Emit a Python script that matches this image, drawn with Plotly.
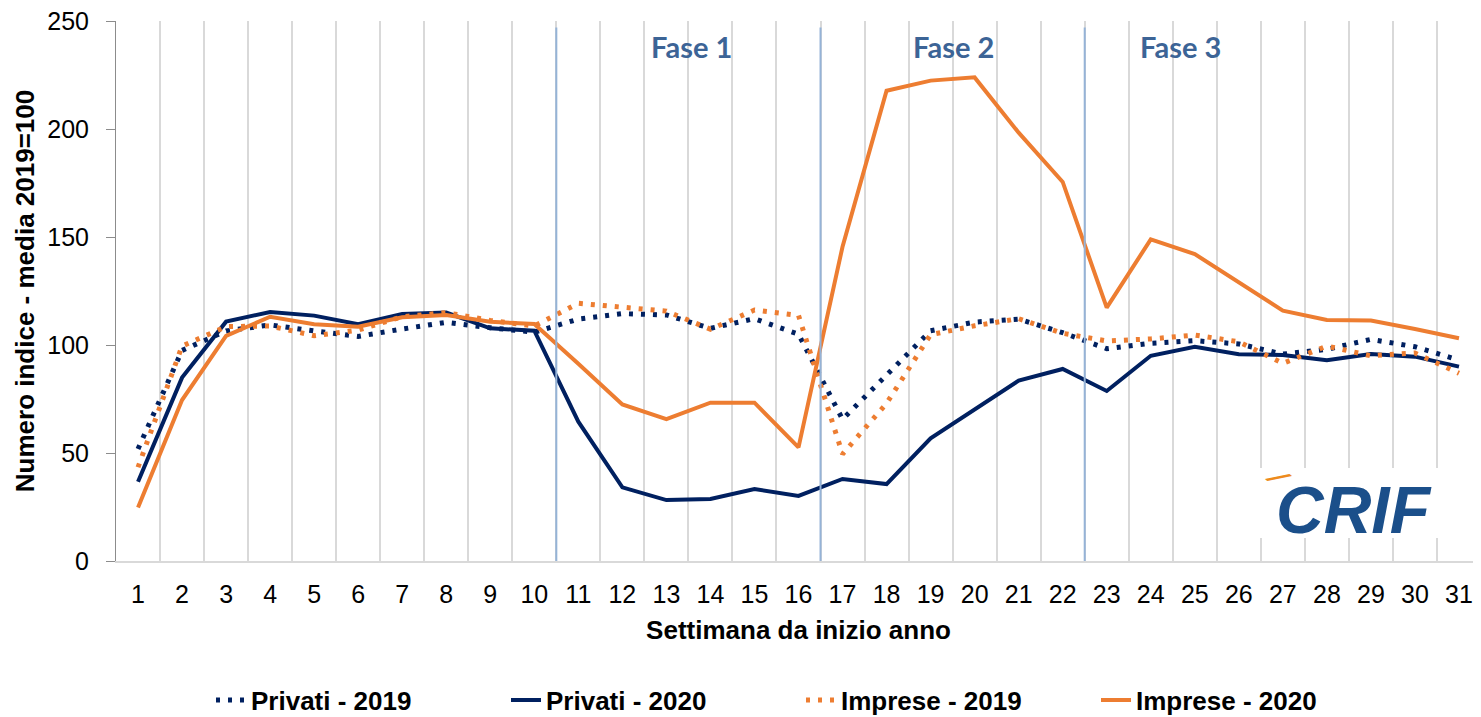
import plotly.graph_objects as go

weeks = list(range(1, 32))
privati_2019 = [51.9, 97.5, 106.5, 109.3, 106.5, 104.0, 107.4, 110.5, 108.0, 105.9,
                112.0, 114.5, 113.9, 107.7, 112.2, 105.0, 65.6, 86.3, 106.6, 110.6,
                112.0, 105.7, 98.3, 100.8, 102.0, 100.5, 95.8, 98.0, 102.6, 99.2, 93.0]
privati_2020 = [36.7, 84.9, 110.8, 115.3, 113.6, 109.6, 114.4, 115.0, 107.7, 106.6,
                64.5, 34.1, 28.2, 28.7, 33.3, 30.1, 38.0, 35.6, 56.8, 69.9,
                83.5, 88.9, 78.7, 95.0, 99.2, 95.7, 95.4, 92.9, 95.8, 94.6, 90.0]
imprese_2019 = [43.4, 99.5, 108.5, 108.8, 104.3, 106.9, 113.1, 115.0, 111.4, 108.8,
                119.3, 117.4, 115.7, 107.3, 116.2, 113.7, 49.5, 73.0, 104.8, 108.9,
                112.2, 105.4, 101.9, 102.8, 104.6, 101.5, 91.5, 99.5, 95.0, 96.3, 86.9]
imprese_2020 = [24.8, 74.5, 104.2, 113.1, 109.6, 108.5, 112.8, 113.9, 110.8, 109.7,
                91.3, 72.5, 65.7, 73.3, 73.3, 52.6, 145.5, 217.7, 222.4, 223.9,
                198.3, 175.5, 117.3, 148.9, 142.1, 129.0, 115.9, 111.6, 111.3, 107.4, 103.1]
y_ticks = [0, 50, 100, 150, 200, 250]
phase_bounds = [10.5, 16.5, 22.5]
phase_labels = ["Fase 1", "Fase 2", "Fase 3"]
phase_label_x = [13.58, 19.51, 24.67]

NAVY = "#002060"
ORANGE = "#ED7D31"

# the page body has an 8px margin: figure is sized to fit the window
W, H = 1473, 709

fig = go.Figure()
fig.add_trace(go.Scatter(x=weeks, y=privati_2019, name="Privati - 2019", mode="lines",
                         line=dict(color=NAVY, width=5, dash="4px,8px")))
fig.add_trace(go.Scatter(x=weeks, y=privati_2020, name="Privati - 2020", mode="lines",
                         line=dict(color=NAVY, width=4)))
fig.add_trace(go.Scatter(x=weeks, y=imprese_2019, name="Imprese - 2019", mode="lines",
                         line=dict(color=ORANGE, width=5, dash="4px,8px")))
fig.add_trace(go.Scatter(x=weeks, y=imprese_2020, name="Imprese - 2020", mode="lines",
                         line=dict(color=ORANGE, width=4)))

for xb in phase_bounds:
    fig.add_shape(type="line", x0=xb, x1=xb, y0=0, y1=247, xref="x", yref="y",
                  line=dict(color="#95B3D7", width=2), layer="above")

for lbl, lx in zip(phase_labels, phase_label_x):
    fig.add_annotation(x=lx, y=238, xref="x", yref="y", text="<b>" + lbl + "</b>",
                       showarrow=False, font=dict(family="Lato", size=29, color="#3C6496"))

# logo placeholder (white box + wordmark)
fig.add_shape(type="rect", x0=26.44, x1=30.62, y0=10.6, y1=43, xref="x", yref="y",
              fillcolor="white", line=dict(width=0), layer="above")
fig.add_annotation(x=28.62, y=23.5, xref="x", yref="y", text="<b><i>CRIF</i></b>",
                   showarrow=False, font=dict(family="Liberation Sans", size=66, color="#1B4F8A"))
fig.add_annotation(x=26.9, y=38.5, xref="x", yref="y", text="<b><i>⁄</i></b>",
                   showarrow=False, textangle=40, font=dict(family="DejaVu Sans", size=26, color="#ED8B1C"))

fig.update_layout(
    width=W, height=H,
    margin=dict(l=108, r=0, t=13, b=156),
    paper_bgcolor="white", plot_bgcolor="white",
    font=dict(family="Liberation Sans, Arial", color="black"),
    showlegend=True,
    legend=dict(orientation="h", xref="container", yref="container", x=203 / W, xanchor="left",
                y=(H - 692) / H, yanchor="middle",
                font=dict(size=26, color="black", family="Liberation Sans", weight="bold"),
                entrywidth=250, entrywidthmode="pixels", itemwidth=30, tracegroupgap=0),
)
fig.update_xaxes(range=[0.5, 31.5], tickmode="array", tickvals=weeks,
                 ticktext=[str(w) for w in weeks], showgrid=False, automargin=False,
                 minor=dict(tick0=0.5, dtick=1, showgrid=True, gridcolor="#D9D9D9", gridwidth=2, ticks=""),
                 showline=True, linecolor="#D9D9D9", linewidth=2, ticks="", zeroline=False,
                 tickfont=dict(size=25), ticklabelstandoff=10, ticklabeloverflow="allow",
                 title=dict(text="<b>Settimana da inizio anno</b>", font=dict(size=26), standoff=14))
fig.update_yaxes(range=[0, 250], tickmode="array", tickvals=y_ticks, showgrid=False, automargin=False,
                 showline=True, linecolor="#8C8C8C", linewidth=1, ticks="outside", ticklen=9,
                 tickcolor="#8C8C8C", zeroline=False, tickfont=dict(size=25), ticklabelstandoff=12,
                 ticklabeloverflow="allow",
                 title=dict(text="<b>Numero indice - media 2019=100</b>", font=dict(size=26), standoff=5))

fig.write_html("out.html")
